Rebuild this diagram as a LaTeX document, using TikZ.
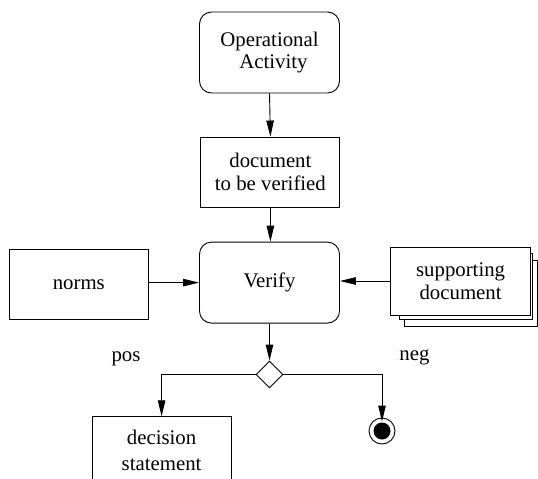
\documentclass[tikz,border=0pt]{standalone}
\usepackage{fontspec}
\setmainfont{Liberation Serif}
\usetikzlibrary{shapes.geometric,arrows.meta,calc}
\begin{document}
\begin{tikzpicture}[x=1pt,y=-1pt,
  every node/.style={font=\fontsize{20.8}{22.6}\selectfont, inner sep=0pt},
  box/.style={draw, line width=0.9pt, align=center},
  actbox/.style={box, rounded corners=12pt, minimum width=140pt, minimum height=81pt},
  rectbox/.style={box, minimum width=139pt, minimum height=69pt},
  conn/.style={line width=0.9pt, -{Triangle[length=16pt,width=7.5pt]}},
  lbl/.style={anchor=base}]
\clip (0,0) rectangle (538,479);
\useasboundingbox (0,0) rectangle (538,479);
% nodes
\node[actbox] (act) at (269.5,52.5) {Operational\\\hspace*{8pt}Activity};
\node[rectbox, minimum width=139pt, minimum height=70pt] (doc) at (270.4,172) {document\\to be verified};
\node[actbox] (verify) at (269.5,282.6) {Verify};
\node[rectbox, minimum width=139.6pt, minimum height=69.6pt] (norms) at (78.8,284.4) {norms};
% supporting document stack
\draw[line width=0.9pt, fill=white] (404,260) rectangle (537.5,326);
\draw[line width=0.9pt, fill=white] (399,253) rectangle (532.5,319.5);
\node[rectbox, fill=white, minimum width=139.8pt, minimum height=68pt] (supp) at (460.6,281) {supporting\\document};
\node[draw, diamond, line width=0.9pt, minimum width=27pt, minimum height=27pt] (dia) at (269.5,374.5) {};
\node[draw, circle, line width=0.9pt, minimum size=26pt] (final) at (382,431) {};
\node[circle, fill=black, minimum size=17pt] (finalin) at (final) {};
\node[rectbox, minimum width=138.7pt, minimum height=80pt] (dec) at (161.6,456.7) {};
\node[anchor=base, align=center, font=\fontsize{20.8}{26.4}\selectfont] (dectext) at (161.6,470.7) {decision\\statement};
% labels
\node[lbl] (pos) at (126,361.5) {pos};
\node[lbl] (neg) at (414.5,360.5) {neg};
% connectors
\draw[conn] (act.south) -- (doc.north);
\draw[conn] (doc.south) -- (doc.south |- verify.north);
\draw[conn] (norms.east |- verify.west) -- (verify.west);
\draw[conn] (supp.west) -- (supp.west -| verify.east);
\draw[conn] (verify.south) -- (dia.north);
\draw[conn] (dia.west) -| (dec.north);
\draw[conn] (dia.east) -| ([yshift=-4pt]final.north);
\end{tikzpicture}
\end{document}
